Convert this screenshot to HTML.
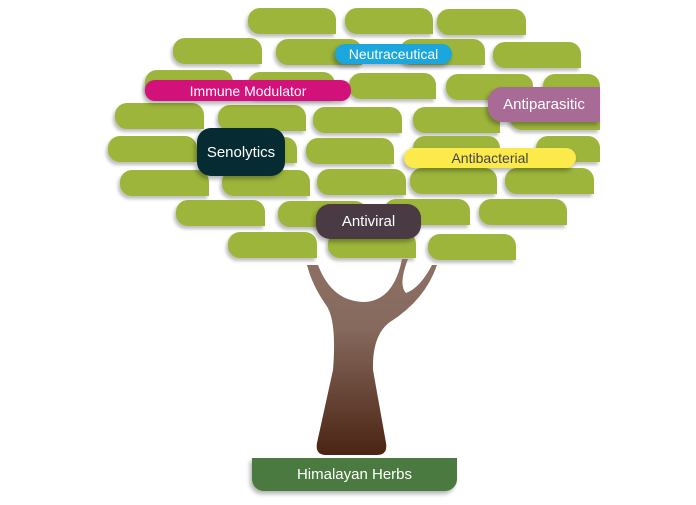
<!DOCTYPE html>
<html><head><style>
body{margin:0;width:696px;height:505px;background:#fff;position:relative;overflow:hidden;font-family:"Liberation Sans",sans-serif}
.l{position:absolute;height:26px;background:#9cb53a;border-radius:12px 12px 0 12px;box-shadow:-2px 3px 3px rgba(0,0,0,.25)}
.t{position:absolute;color:#fff;display:flex;align-items:center;justify-content:center;box-shadow:-2px 3px 4px rgba(0,0,0,.3)}
</style></head><body>
<div class="l" style="left:248px;top:8px;width:88px"></div>
<div class="l" style="left:345px;top:8px;width:88px"></div>
<div class="l" style="left:437px;top:9px;width:89px"></div>
<div class="l" style="left:173px;top:38px;width:89px"></div>
<div class="l" style="left:276px;top:39px;width:86px"></div>
<div class="l" style="left:400px;top:39px;width:85px"></div>
<div class="l" style="left:493px;top:42px;width:88px"></div>
<div class="l" style="left:145px;top:70px;width:88px"></div>
<div class="l" style="left:248px;top:72px;width:87px"></div>
<div class="l" style="left:349px;top:73px;width:87px"></div>
<div class="l" style="left:446px;top:74px;width:87px"></div>
<div class="l" style="left:543px;top:74px;width:57px"></div>
<div class="l" style="left:115px;top:103px;width:89px"></div>
<div class="l" style="left:218px;top:105px;width:88px"></div>
<div class="l" style="left:313px;top:107px;width:89px"></div>
<div class="l" style="left:413px;top:107px;width:87px"></div>
<div class="l" style="left:510px;top:104px;width:90px"></div>
<div class="l" style="left:108px;top:136px;width:89px"></div>
<div class="l" style="left:218px;top:137px;width:79px"></div>
<div class="l" style="left:306px;top:138px;width:88px"></div>
<div class="l" style="left:413px;top:136px;width:87px"></div>
<div class="l" style="left:536px;top:136px;width:64px"></div>
<div class="l" style="left:120px;top:170px;width:89px"></div>
<div class="l" style="left:222px;top:170px;width:88px"></div>
<div class="l" style="left:317px;top:169px;width:89px"></div>
<div class="l" style="left:410px;top:168px;width:87px"></div>
<div class="l" style="left:505px;top:168px;width:89px"></div>
<div class="l" style="left:176px;top:200px;width:89px"></div>
<div class="l" style="left:278px;top:201px;width:89px"></div>
<div class="l" style="left:384px;top:199px;width:86px"></div>
<div class="l" style="left:479px;top:199px;width:88px"></div>
<div class="l" style="left:228px;top:232px;width:89px"></div>
<div class="l" style="left:328px;top:232px;width:88px"></div>
<div class="l" style="left:428px;top:234px;width:88px"></div>

<svg style="position:absolute;left:0;top:0" width="696" height="505">
<defs><linearGradient id="g" x1="0" y1="0" x2="0" y2="1"><stop offset="0" stop-color="#8e6f64"/><stop offset=".35" stop-color="#866a5e"/><stop offset="1" stop-color="#4b2413"/></linearGradient></defs>
<path d="M307,265 L318,265 Q332,302 365,302 Q394,300 402,259 L408,259 Q398,285 406,293 Q420,288 432,265 L437,265 Q425,300 390,322 Q372,335 373,370 L386,443 Q388,455 377,455 L326,455 Q315,455 317,443 L333,370 Q337,320 326,305 Q312,285 307,265 Z" fill="url(#g)"/>
</svg>
<div class="t" style="left:252px;top:458px;width:205px;height:33px;background:#4a7a40;border-radius:0 0 12px 12px;font-size:15px">Himalayan Herbs</div>

<div class="t" style="left:335px;top:44px;width:117px;height:20px;background:#1ba6dd;border-radius:10px;font-size:14px">Neutraceutical</div>
<div class="t" style="left:145px;top:80px;width:206px;height:21px;background:#d3117a;border-radius:10px;font-size:14px">Immune Modulator</div>
<div class="t" style="left:488px;top:87px;width:112px;height:35px;background:#a86b95;border-radius:14px 0 0 14px;font-size:15px">Antiparasitic</div>
<div class="t" style="left:197px;top:128px;width:88px;height:48px;background:#062b33;border-radius:14px;font-size:15px">Senolytics</div>
<div class="t" style="left:404px;top:148px;width:172px;height:20px;background:#fce94a;border-radius:10px;font-size:14px;color:#444">Antibacterial</div>
<div class="t" style="left:316px;top:204px;width:105px;height:35px;background:#4a3a44;border-radius:14px;font-size:15px">Antiviral</div>
</body></html>
